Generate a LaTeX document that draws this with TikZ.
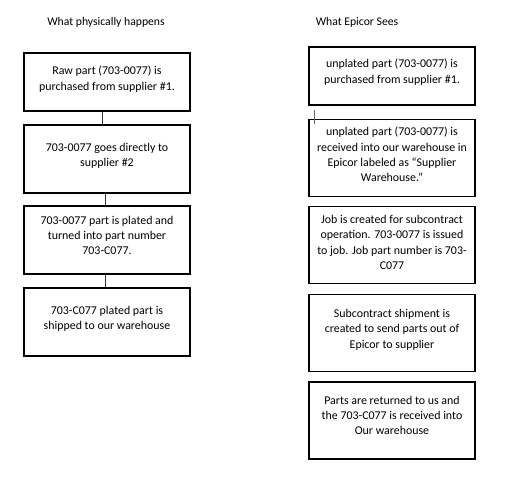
\documentclass[tikz,border=0pt]{standalone}
\usepackage{fontspec}
\setmainfont{Carlito}
\begin{document}
\begin{tikzpicture}[x=1pt, y=1pt,
        box/.style = {draw, line width=1.4pt, minimum width=166pt, inner sep=0pt},
        txt/.style = {align=center, inner sep=0pt, anchor=north, font=\fontsize{11.9}{15.3}\selectfont},
        head/.style = {inner sep=0pt, font=\fontsize{11.7}{13}\selectfont},
        link/.style = {line width=0.8pt, black!80}]
        \useasboundingbox (0,0) rectangle (508,-500);

        % headings
        \node[head] (left) at (106,-22) {What physically happens};
        \node[head] (right) at (357,-22) {What Epicor Sees};

        % left column
        \node[box, minimum height=58pt] (l1) at (107,-82) {};
        \node[box, minimum height=68pt] (l2) at (107,-159) {};
        \node[box, minimum height=68pt] (l3) at (107,-240) {};
        \node[box, minimum height=68pt] (l4) at (107,-322) {};
        \node[txt] (l1t) at ([yshift=-13.5pt]l1.north) {Raw part (703-0077) is\\purchased from supplier \#1.};
        \node[txt] (l2t) at ([yshift=-18.5pt]l2.north) {703-0077 goes directly to\\supplier \#2};
        \node[txt] (l3t) at ([yshift=-10.5pt]l3.north) {703-0077 part is plated and\\turned into part number\\703-C077.};
        \node[txt] (l4t) at ([yshift=-18.5pt]l4.north) {703-C077 plated part is\\shipped to our warehouse};

        % right column
        \node[box, minimum height=58pt] (r1) at (392,-76) {};
        \node[box, minimum height=77.5pt] (r2) at (392,-158) {};
        \node[box, minimum height=77.5pt] (r3) at (392,-245) {};
        \node[box, minimum height=77.5pt] (r4) at (392,-333) {};
        \node[box, minimum height=77pt] (r5) at (392,-420.5) {};
        \node[txt] (r1t) at ([yshift=-12.5pt]r1.north) {unplated part (703-0077) is\\purchased from supplier \#1.};
        \node[txt] (r2t) at ([yshift=-8.5pt]r2.north) {unplated part (703-0077) is\\received into our warehouse in\\Epicor labeled as “Supplier\\Warehouse.”};
        \node[txt] (r3t) at ([yshift=-9.5pt]r3.north) {Job is created for subcontract\\operation. 703-0077 is issued\\to job. Job part number is 703-\\C077};
        \node[txt] (r4t) at ([yshift=-15.5pt]r4.north) {Subcontract shipment is\\created to send parts out of\\Epicor to supplier};
        \node[txt] (r5t) at ([yshift=-14.5pt]r5.north) {Parts are returned to us and\\the 703-C077 is received into\\Our warehouse};

        \draw[link] ([xshift=-5pt]l1.south) -- ([xshift=-5pt]l2.north);
        \draw[link] ([xshift=-2pt]l2.south) -- ([xshift=-2pt]l3.north);
        \draw[link] ([xshift=-2pt]l3.south) -- ([xshift=-2pt]l4.north);
        \draw[line width=0.6pt, black!60] ([xshift=6pt,yshift=-4pt]r1.south west) -- ([xshift=6pt,yshift=-5pt]r2.north west);
\end{tikzpicture}
\end{document}
